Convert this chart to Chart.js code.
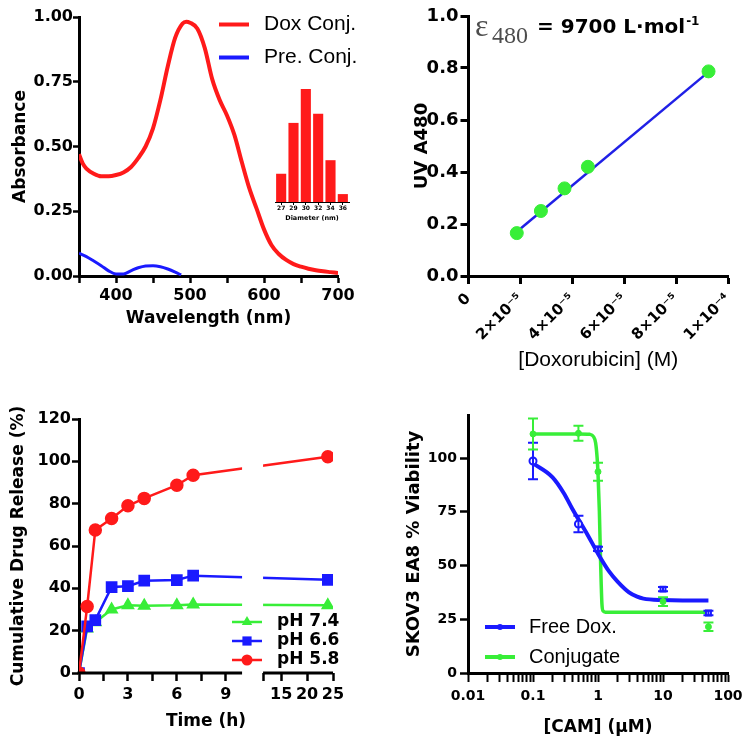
<!DOCTYPE html>
<html>
<head>
  <meta charset="utf-8">
  <title>Doxorubicin conjugate characterisation</title>
  <script src="https://cdn.jsdelivr.net/npm/chart.js"></script>
  <style>
    body { margin: 0; background: #fff; }
    #fig { position: relative; width: 750px; height: 749px; overflow: hidden; }
    #fig canvas { position: absolute; }
  </style>
</head>
<body>
<div id="fig">
  <canvas id="spectra" width="375" height="375" style="left:0;top:0"></canvas>
  <canvas id="inset" width="84" height="140" style="left:270px;top:85px"></canvas>
  <canvas id="calib" width="375" height="375" style="left:375px;top:0"></canvas>
  <canvas id="release" width="375" height="374" style="left:0;top:375px"></canvas>
  <canvas id="viability" width="375" height="374" style="left:375px;top:375px"></canvas>
</div>

<script>
  // ---- A: absorbance spectra
  const doxWavelength = [350,355,360,370,380,390,400,410,420,430,440,450,460,470,480,490,495,500,510,520,530,540,550,560,570,580,590,600,610,620,630,640,650,660,670,680,690,700];
  const doxAbsorbance = [0.47,0.435,0.415,0.395,0.385,0.385,0.39,0.40,0.42,0.455,0.50,0.57,0.68,0.81,0.92,0.975,0.982,0.978,0.955,0.88,0.76,0.68,0.62,0.545,0.44,0.34,0.26,0.18,0.12,0.085,0.062,0.046,0.036,0.028,0.022,0.018,0.015,0.012];
  const preWavelength = [350,360,370,380,390,400,410,420,430,440,450,460,470,480,488];
  const preAbsorbance = [0.088,0.075,0.058,0.04,0.02,0.008,0.008,0.02,0.032,0.039,0.04,0.036,0.027,0.015,0.004];
  const waveTicks = [350,400,450,500,550,600,650,700];
  const waveLabels = [400,500,600,700];
  const absTicks = [0,0.25,0.5,0.75,1];

  // inset: size distribution
  const diameterLabels = ['27','29','30','32','34','36'];
  const diameterCounts = [25,70,100,78,37,7];

  // ---- B: calibration
  const doxConc = [1.86e-5,2.79e-5,3.70e-5,4.60e-5,9.25e-5];
  const uvA480 = [0.165,0.25,0.337,0.42,0.787];
  const fitConc = [1.86e-5,9.25e-5];
  const fitA480 = [0.17,0.785];
  const concTicks = [0,2e-5,4e-5,6e-5,8e-5,1e-4];
  const concTickLabels = ['0','2×10⁻⁵','4×10⁻⁵','6×10⁻⁵','8×10⁻⁵','1×10⁻⁴'];
  const a480Ticks = [0,0.2,0.4,0.6,0.8,1.0];

  // ---- C: release
  const releaseTime = [0,0.5,1,2,3,4,6,7,24];
  const releasePH58 = [0,31.4,67.6,73,79,82.5,88.7,93.4,102.2];
  const releasePH66 = [0,22,25,40.6,41,43.6,43.9,46,44];
  const releasePH74 = [0,21,24,30,32,31.8,32,32.4,32];
  const timeTicks = [0,1.5,3,4.5,6,7.5,9,11.5,15,20,25];
  const timeLabelled = [0,3,6,9,15,20,25];
  const releaseTicks = [0,20,40,60,80,100,120];

  // ---- D: viability
  const camDose = [0.1,0.5,1,10,50];
  const freeDoxViab = [98.6,69.3,57.7,39,27.9];
  const freeDoxErr = [8.5,3.8,1,1,1];
  const conjViab = [111.2,111.5,93.6,33.2,21.5];
  const conjErr = [7.2,3.5,4.2,2,2];
  const freeFitDose = [0.1,0.2,0.3,0.4,0.5,0.7,1,1.5,2,3,4,5,10,20,50];
  const freeFitViab = [97.5,91,83.5,76.5,71.5,64,55.5,47,42.5,37.5,35.5,34.6,33.9,33.7,33.7];
  const conjFitDose = [0.1,0.5,0.75,0.85,0.92,0.97,1,1.05,1.1,1.15,1.2,1.3,50];
  const conjFitViab = [111.2,111.2,111,110,107,100,93,75,50,32,28.8,28.3,28.3];
  const camTicks = [0.01,0.02,0.03,0.04,0.05,0.06,0.07,0.08,0.09,0.1,0.2,0.3,0.4,0.5,0.6,0.7,0.8,0.9,1,2,3,4,5,6,7,8,9,10,20,30,40,50,60,70,80,90,100];
  const camLabels = [0.01,0.1,1,10,100];
  const viabTicks = [0,25,50,75,100];

  const RED = '#ff1a1a';
  const BLUE = '#1a1aff';
  const GREEN = '#38ee38';
  const BOLD = '"DejaVu Sans", sans-serif';
  const REG = '"Liberation Sans", Arial, sans-serif';

  Chart.defaults.font.family = BOLD;
  Chart.defaults.font.weight = 'bold';
  Chart.defaults.color = '#000';
  Chart.defaults.animation = false;
  Chart.defaults.responsive = false;
  Chart.defaults.events = [];
  Chart.defaults.plugins.tooltip.enabled = false;

  const pairs = (xs, ys) => xs.map((x, i) => ({ x: x, y: ys[i] }));
  const fixTicks = list => s => { s.ticks = list.map(v => ({ value: v })); };
  const border = w => ({ display: true, color: '#000', width: w });
  const tickMarks = (len, w) => ({ drawOnChartArea: false, drawTicks: true, tickLength: len, tickWidth: w, tickColor: '#000', color: '#000' });

  // x axis with a gap (0-10 h, then 11.5-25 h on a compressed scale)
  const LinearScale = Chart.registry.getScale('linear');
  class BrokenLinearScale extends LinearScale {
    getPixelForValue(value) {
      const b = this.options.brk;
      const w1 = this.width * b.split, g = b.gap;
      if (value <= b.at) return this.left + (value - this.min) / (b.at - this.min) * w1;
      if (value >= b.resume) return this.left + w1 + g + (value - b.resume) / (this.max - b.resume) * (this.width - w1 - g);
      return this.left + w1 + (value - b.at) / (b.resume - b.at) * g;
    }
    getValueForPixel(pixel) {
      const b = this.options.brk;
      const w1 = this.width * b.split, g = b.gap, p = pixel - this.left;
      if (p <= w1) return this.min + p / w1 * (b.at - this.min);
      if (p >= w1 + g) return b.resume + (p - w1 - g) / (this.width - w1 - g) * (this.max - b.resume);
      return b.at + (p - w1) / g * (b.resume - b.at);
    }
  }
  BrokenLinearScale.id = 'brokenLinear';
  BrokenLinearScale.defaults = LinearScale.defaults;
  Chart.register(BrokenLinearScale);

  // cut the lines at the axis break and draw the two axis pieces
  const axisBreak = {
    id: 'axisBreak',
    beforeDatasetsDraw(chart) {
      const x = chart.scales.x, b = x.options.brk, ctx = chart.ctx;
      const p1 = x.getPixelForValue(b.at), p2 = x.getPixelForValue(b.resume);
      ctx.save();
      ctx.beginPath();
      ctx.rect(0, 0, p1, chart.height);
      ctx.rect(p2, 0, chart.width - p2, chart.height);
      ctx.clip();
    },
    afterDatasetsDraw(chart) {
      const x = chart.scales.x, b = x.options.brk, ctx = chart.ctx;
      ctx.restore();
      const yb = chart.chartArea.bottom;
      ctx.save();
      ctx.strokeStyle = '#000';
      ctx.lineWidth = 3;
      ctx.beginPath();
      ctx.moveTo(x.getPixelForValue(x.min) - 1.5, yb);
      ctx.lineTo(x.getPixelForValue(b.at), yb);
      ctx.moveTo(x.getPixelForValue(b.resume), yb);
      ctx.lineTo(x.getPixelForValue(x.max), yb);
      ctx.stroke();
      ctx.restore();
    }
  };

  // move the legend box to a given spot inside the canvas
  const placeLegend = {
    id: 'placeLegend',
    afterLayout(chart, args, o) {
      const lg = chart.legend;
      lg.left = o.x; lg.top = o.y;
      lg.width = 200; lg.height = 140;
      lg.right = o.x + 200; lg.bottom = o.y + 140;
    }
  };

  function sampleImage(color, lineWidth, marker, size) {
    const c = document.createElement('canvas');
    c.width = 30; c.height = 18;
    const g = c.getContext('2d');
    g.strokeStyle = color; g.fillStyle = color; g.lineWidth = lineWidth;
    g.beginPath(); g.moveTo(0, 9); g.lineTo(30, 9); g.stroke();
    g.beginPath();
    if (marker === 'circle') g.arc(15, 9, size, 0, 2 * Math.PI);
    if (marker === 'rect') g.rect(15 - size, 9 - size, 2 * size, 2 * size);
    if (marker === 'triangle') {
      g.moveTo(15, 9 - size); g.lineTo(15 + size * 0.87, 9 + size / 2); g.lineTo(15 - size * 0.87, 9 + size / 2); g.closePath();
    }
    g.fill();
    return c;
  }

  function legendOptions(names, images, font, gap, boxWidth) {
    return {
      position: 'chartArea',
      align: 'start',
      labels: {
        usePointStyle: true,
        pointStyleWidth: boxWidth,
        padding: gap,
        font: font,
        color: '#000',
        generateLabels: () => names.map((text, i) => ({
          text: text, pointStyle: images[i], fillStyle: 'rgba(0,0,0,0)', strokeStyle: 'rgba(0,0,0,0)',
          lineWidth: 0, fontColor: '#000', hidden: false, datasetIndex: i
        }))
      }
    };
  }

  // ---------- A
  new Chart(document.getElementById('spectra'), {
    type: 'line',
    data: {
      datasets: [
        { label: 'Dox Conj.', data: pairs(doxWavelength, doxAbsorbance), borderColor: RED, borderWidth: 4, pointRadius: 0, cubicInterpolationMode: 'monotone' },
        { label: 'Pre. Conj.', data: pairs(preWavelength, preAbsorbance), borderColor: BLUE, borderWidth: 3, pointRadius: 0, cubicInterpolationMode: 'monotone' }
      ]
    },
    options: {
      layout: { padding: { left: 10, top: 17, right: 37, bottom: 46 } },
      scales: {
        x: {
          type: 'linear', min: 350, max: 700,
          afterBuildTicks: fixTicks(waveTicks),
          afterFit: s => { s.height = 53; },
          border: border(3), grid: tickMarks(7, 2.5),
          ticks: { autoSkip: false, maxRotation: 0, padding: 3, font: { size: 16 }, callback: v => waveLabels.includes(v) ? String(v) : '' },
          title: { display: true, text: 'Wavelength (nm)', font: { size: 17 }, padding: 0 }
        },
        y: {
          min: 0, max: 1,
          afterBuildTicks: fixTicks(absTicks),
          afterFit: s => { s.width = 69; },
          border: border(3), grid: tickMarks(6, 2.5),
          ticks: { padding: 0, font: { size: 16 }, callback: v => v.toFixed(2) },
          title: { display: true, text: 'Absorbance', font: { size: 17 }, padding: 0 }
        }
      },
      plugins: {
        legend: legendOptions(['Dox Conj.', 'Pre. Conj.'], [sampleImage(RED, 4), sampleImage(BLUE, 4)],
          { family: REG, size: 21, weight: 'normal' }, 12, 39),
        placeLegend: { x: 202.5, y: 2 }
      }
    },
    plugins: [placeLegend]
  });

  new Chart(document.getElementById('inset'), {
    type: 'bar',
    data: { labels: diameterLabels, datasets: [{ data: diameterCounts, backgroundColor: RED, barPercentage: 0.82, categoryPercentage: 1 }] },
    options: {
      layout: { padding: { left: 5, top: 4, right: 5, bottom: 3 } },
      scales: {
        x: {
          afterFit: s => { s.height = 20; },
          border: border(1),
          grid: { drawOnChartArea: false, offset: false, tickLength: 3, tickWidth: 1, tickColor: '#000' },
          ticks: { autoSkip: false, maxRotation: 0, padding: 0, font: { size: 6 } },
          title: { display: true, text: 'Diameter (nm)', font: { size: 6.5 }, padding: 0 }
        },
        y: { display: false, min: 0, max: 100 }
      },
      plugins: { legend: { display: false } }
    }
  });

  // ---------- B
  const epsilonLabel = {
    id: 'epsilonLabel',
    afterDraw(chart) {
      const ctx = chart.ctx, x0 = chart.chartArea.left;
      ctx.save();
      ctx.textBaseline = 'alphabetic';
      ctx.fillStyle = '#4d4d4d';
      ctx.font = '32px "Liberation Serif", serif';
      ctx.fillText('ε', x0 + 6.5, 36);
      ctx.font = '24px "Liberation Serif", serif';
      ctx.fillText('480', x0 + 23.5, 43);
      ctx.fillStyle = '#000';
      ctx.font = 'bold 20px ' + BOLD;
      const main = '= 9700 L·mol';
      ctx.fillText(main, x0 + 68.5, 33);
      const w = ctx.measureText(main).width;
      ctx.font = 'bold 12px ' + BOLD;
      ctx.fillText('-1', x0 + 69.5 + w, 25);
      ctx.restore();
    }
  };

  new Chart(document.getElementById('calib'), {
    type: 'line',
    data: {
      datasets: [
        { data: pairs(doxConc, uvA480), showLine: false, pointRadius: 6.5, pointBackgroundColor: GREEN, pointBorderColor: GREEN, borderColor: GREEN },
        { data: pairs(fitConc, fitA480), borderColor: '#2020e6', borderWidth: 2.5, pointRadius: 0 }
      ]
    },
    options: {
      layout: { padding: { left: 37, top: 16, right: 22, bottom: 2 } },
      scales: {
        x: {
          type: 'linear', min: 0, max: 1e-4,
          afterBuildTicks: fixTicks(concTicks),
          afterFit: s => { s.height = 97; },
          border: border(3), grid: tickMarks(8, 3),
          ticks: { autoSkip: false, minRotation: 45, maxRotation: 45, padding: 6, font: { size: 15 }, callback: (v, i) => concTickLabels[i] },
          title: { display: true, text: '[Doxorubicin] (M)', font: { family: REG, size: 21, weight: 'normal' }, padding: 0 }
        },
        y: {
          min: 0, max: 1,
          afterBuildTicks: fixTicks(a480Ticks),
          afterFit: s => { s.width = 56.5; },
          border: border(3), grid: tickMarks(8, 3),
          ticks: { padding: 2, font: { size: 18 }, callback: v => v.toFixed(1) },
          title: { display: true, text: 'UV A480', font: { size: 18 }, padding: 0 }
        }
      },
      plugins: { legend: { display: false } }
    },
    plugins: [epsilonLabel]
  });

  // ---------- C
  new Chart(document.getElementById('release'), {
    type: 'line',
    data: {
      datasets: [
        { label: 'pH 5.8', data: pairs(releaseTime, releasePH58), borderColor: RED, backgroundColor: RED, borderWidth: 2.5, pointStyle: 'circle', pointRadius: 5.5, order: 0 },
        { label: 'pH 6.6', data: pairs(releaseTime, releasePH66), borderColor: BLUE, backgroundColor: BLUE, borderWidth: 2.5, pointStyle: 'rect', pointRadius: 6.5, order: 1 },
        { label: 'pH 7.4', data: pairs(releaseTime, releasePH74), borderColor: GREEN, backgroundColor: GREEN, borderWidth: 2.5, pointStyle: 'triangle', pointRadius: 5.5, order: 2 }
      ]
    },
    options: {
      layout: { padding: { left: 8, top: 44, right: 42, bottom: 17 } },
      scales: {
        x: {
          type: 'brokenLinear', min: 0, max: 25,
          brk: { at: 10, resume: 11.5, split: 0.642, gap: 21 },
          afterBuildTicks: fixTicks(timeTicks),
          afterFit: s => { s.height = 59; },
          border: { display: false }, grid: tickMarks(8, 2.5),
          ticks: { autoSkip: false, maxRotation: 0, padding: 4, font: { size: 16 }, callback: v => timeLabelled.includes(v) ? String(v) : '' },
          title: { display: true, text: 'Time (h)', font: { size: 17 }, padding: 0 }
        },
        y: {
          min: 0, max: 120,
          afterBuildTicks: fixTicks(releaseTicks),
          afterFit: s => { s.width = 71; },
          border: border(3), grid: tickMarks(7, 2.5),
          ticks: { padding: 1, font: { size: 16 } },
          title: { display: true, text: 'Cumulative Drug Release (%)', font: { size: 17 }, padding: 0 }
        }
      },
      plugins: {
        legend: legendOptions(['pH 7.4', 'pH 6.6', 'pH 5.8'],
          [sampleImage(GREEN, 2.5, 'triangle', 6), sampleImage(BLUE, 2.5, 'rect', 4.6), sampleImage(RED, 2.5, 'circle', 5.5)],
          { size: 17 }, 2, 43),
        placeLegend: { x: 223.5, y: 236.5 }
      }
    },
    plugins: [placeLegend, axisBreak]
  });

  // ---------- D
  const errorBars = {
    id: 'errorBars',
    afterDatasetsDraw(chart) {
      const ctx = chart.ctx, xs = chart.scales.x, ys = chart.scales.y;
      const sets = [
        { color: BLUE, y: freeDoxViab, err: freeDoxErr },
        { color: GREEN, y: conjViab, err: conjErr }
      ];
      ctx.save();
      ctx.lineWidth = 2;
      sets.forEach(s => {
        ctx.strokeStyle = s.color;
        camDose.forEach((d, i) => {
          const px = xs.getPixelForValue(d);
          const top = ys.getPixelForValue(s.y[i] + s.err[i]);
          const bot = ys.getPixelForValue(s.y[i] - s.err[i]);
          ctx.beginPath();
          ctx.moveTo(px, top); ctx.lineTo(px, bot);
          ctx.moveTo(px - 5, top); ctx.lineTo(px + 5, top);
          ctx.moveTo(px - 5, bot); ctx.lineTo(px + 5, bot);
          ctx.stroke();
        });
      });
      ctx.restore();
    }
  };

  new Chart(document.getElementById('viability'), {
    type: 'line',
    data: {
      datasets: [
        { data: pairs(camDose, freeDoxViab), showLine: false, pointStyle: ['circle','circle','rect','rect','rect'], pointRadius: 3.5, pointBorderWidth: 2, pointBorderColor: BLUE, pointBackgroundColor: '#fff', order: 0 },
        { data: pairs(camDose, conjViab), showLine: false, pointRadius: 3, pointBackgroundColor: GREEN, pointBorderColor: GREEN, order: 1 },
        { data: pairs(freeFitDose, freeFitViab), borderColor: BLUE, borderWidth: 4, pointRadius: 0, cubicInterpolationMode: 'monotone', order: 2 },
        { data: pairs(conjFitDose, conjFitViab), borderColor: GREEN, borderWidth: 3.5, pointRadius: 0, cubicInterpolationMode: 'monotone', order: 3 }
      ]
    },
    options: {
      layout: { padding: { left: 29, top: 40, right: 22, bottom: 11 } },
      scales: {
        x: {
          type: 'logarithmic', min: 0.01, max: 100,
          afterBuildTicks: fixTicks(camTicks),
          afterFit: s => { s.height = 65; },
          border: border(3), grid: tickMarks(9, 2),
          ticks: { autoSkip: false, maxRotation: 0, padding: 6, font: { size: 14 }, callback: v => camLabels.includes(v) ? String(v) : '' },
          title: { display: true, text: '[CAM] (μM)', font: { size: 17 }, padding: 0 }
        },
        y: {
          min: 0, max: 120,
          afterBuildTicks: fixTicks(viabTicks),
          afterFit: s => { s.width = 64; },
          border: border(3), grid: tickMarks(8, 2.5),
          ticks: { padding: 3, font: { size: 14 } },
          title: { display: true, text: 'SKOV3 EA8 % Viability', font: { size: 18 }, padding: 0 }
        }
      },
      plugins: {
        legend: legendOptions(['Free Dox.', 'Conjugate'],
          [sampleImage(BLUE, 4, 'circle', 3), sampleImage(GREEN, 4, 'circle', 3)],
          { family: REG, size: 20, weight: 'normal' }, 10, 38),
        placeLegend: { x: 96, y: 232 }
      }
    },
    plugins: [placeLegend, errorBars]
  });
</script>
</body>
</html>
